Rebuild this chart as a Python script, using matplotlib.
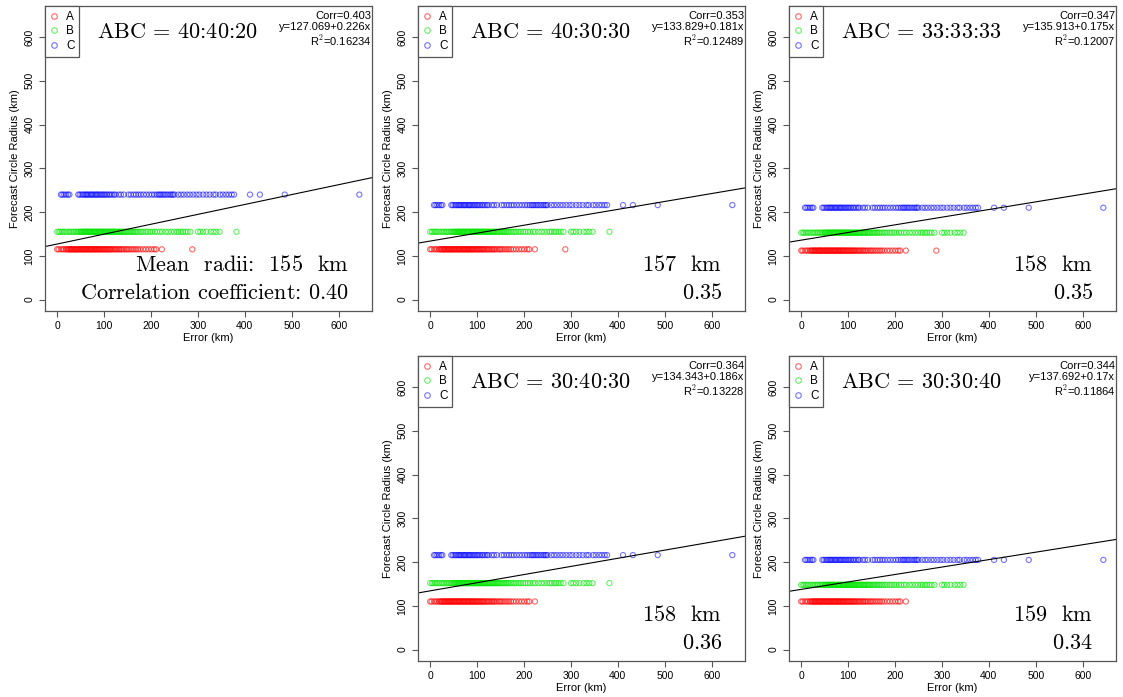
import matplotlib
matplotlib.use("Agg")
import matplotlib.pyplot as plt
from matplotlib.lines import Line2D

plt.rcParams["font.family"] = ["Liberation Sans", "DejaVu Sans"]
plt.rcParams["mathtext.fontset"] = "cm"

# error (km) values of each group
err_A_long = [0, 3, 8, 12, 15, 19, 21, 23, 25, 27, 29, 30, 32, 34, 36, 38, 39, 41, 43, 44,
              46, 48, 50, 51, 53, 55, 57, 58, 60, 62, 63, 65, 67, 69, 70, 72, 74, 75, 77,
              79, 81, 82, 84, 86, 88, 89, 91, 93, 95, 97, 99, 101, 103, 105, 107, 109, 111,
              113, 115, 118, 120, 123, 125, 128, 131, 133, 136, 139, 142, 146, 149, 152,
              156, 160, 164, 168, 172, 177, 183, 189, 195, 201, 207, 211, 223, 288]
err_A_short = err_A_long[:-1]

err_B_long = [0, 4, 7, 11, 14, 18, 22, 26, 29, 33, 36, 40, 43, 46, 49, 51, 53, 55, 57, 59,
              61, 62, 64, 66, 68, 70, 71, 73, 75, 77, 79, 80, 82, 84, 86, 88, 90, 91, 93,
              95, 97, 99, 100, 102, 104, 106, 108, 110, 112, 114, 116, 118, 120, 122, 124,
              126, 128, 131, 133, 135, 137, 140, 142, 145, 147, 150, 153, 156, 159, 162,
              165, 168, 172, 176, 180, 184, 189, 193, 198, 203, 208, 213, 219, 224, 231,
              237, 243, 249, 255, 259, 264, 268, 273, 278, 284, 300, 305, 311, 318, 327,
              333, 339, 346, 382]
err_B_short = err_B_long[:-1]

err_C = [8, 11, 15, 19, 23, 26, 45, 48, 52, 55, 58, 61, 63, 66, 69, 72, 74, 77, 80, 83, 85,
         88, 91, 94, 97, 100, 103, 106, 110, 113, 117, 121, 124, 131, 136, 142, 152, 157,
         163, 168, 173, 178, 184, 190, 196, 202, 207, 212, 216, 219, 222, 226, 229, 233,
         237, 241, 244, 247, 250, 258, 264, 270, 277, 283, 290, 297, 303, 311, 318, 325,
         333, 338, 347, 353, 360, 366, 372, 377, 411, 432, 485, 644]

# one entry per panel
ratios = ["40:40:20", "40:30:30", "33:33:33", "30:40:30", "30:30:40"]
radius_A = [115, 115, 112, 110, 110]
radius_B = [155, 155, 153, 152, 148]
radius_C = [240, 216, 210, 216, 205]
errs_A = [err_A_long, err_A_long, err_A_long, err_A_short, err_A_short]
errs_B = [err_B_long, err_B_long, err_B_short, err_B_long, err_B_short]
corr = ["0.403", "0.353", "0.347", "0.364", "0.344"]
intercept = [127.069, 133.829, 135.913, 134.343, 137.692]
slope = [0.226, 0.181, 0.175, 0.186, 0.17]
r2 = ["0.16234", "0.12489", "0.12007", "0.13228", "0.11864"]
mean_radii = [155, 157, 158, 158, 159]
corr_coef = ["0.40", "0.35", "0.35", "0.36", "0.34"]

fig = plt.figure(figsize=(11.23, 6.97), dpi=100)

W, H = 1123, 697
lefts = [45, 418, 789, 418, 789]
tops = [6, 6, 6, 356, 356]
pw, ph = 327, 305

lo, hi = -26, 671
for i in range(5):
    ax = fig.add_axes([lefts[i] / W, (H - tops[i] - ph) / H, pw / W, ph / H])

    ax.scatter(errs_A[i], [radius_A[i]] * len(errs_A[i]), s=14, facecolors="none",
               edgecolors=(1, 0, 0, 0.6), linewidths=0.8)
    ax.scatter(errs_B[i], [radius_B[i]] * len(errs_B[i]), s=14, facecolors="none",
               edgecolors=(0, 0.9, 0, 0.6), linewidths=0.8)
    ax.scatter(err_C, [radius_C[i]] * len(err_C), s=14, facecolors="none",
               edgecolors=(0, 0, 1, 0.55), linewidths=0.8)

    # regression line
    ax.plot([lo, hi], [intercept[i] + slope[i] * lo, intercept[i] + slope[i] * hi],
            color="black", lw=0.8)

    ax.set_xlim(lo, hi)
    ax.set_ylim(lo, hi)
    ax.set_xticks(range(0, 700, 100))
    ax.set_yticks(range(0, 700, 100))
    ax.tick_params(labelsize=7.5, length=4, width=0.8, color="#555555")
    for lab in ax.get_yticklabels():
        lab.set_rotation(90)
        lab.set_va("center")
    for sp in ax.spines.values():
        sp.set_color("#555555")
        sp.set_linewidth(0.9)
    ax.set_xlabel("Error (km)", fontsize=8, labelpad=1)
    ax.set_ylabel("Forecast Circle Radius (km)", fontsize=8, labelpad=3)

    handles = [Line2D([], [], ls="none", marker="o", ms=4, mfc="none", mew=0.8, mec=c)
               for c in [(1, 0, 0, 0.6), (0, 0.9, 0, 0.6), (0, 0, 1, 0.55)]]
    leg = ax.legend(handles, ["A", "B", "C"], loc="upper left", bbox_to_anchor=(0, 1),
                    borderaxespad=0, fontsize=8.5, fancybox=False, framealpha=1,
                    edgecolor="#555555", borderpad=0.4, labelspacing=0.22,
                    handlelength=0.8, handletextpad=0.6)
    leg.get_frame().set_linewidth(0.9)

    ax.text(0.998, 0.985, "Corr=" + corr[i], transform=ax.transAxes, ha="right",
            va="top", fontsize=8)
    ax.text(0.998, 0.948, "y=%s+%sx" % (intercept[i], slope[i]), transform=ax.transAxes,
            ha="right", va="top", fontsize=8)
    ax.text(0.998, 0.911, "R$^2$=" + r2[i], transform=ax.transAxes, ha="right",
            va="top", fontsize=8)

    ax.text(0.405, 0.912, r"$\text{ABC = " + ratios[i] + "}$", transform=ax.transAxes,
            ha="center", va="center", fontsize=16)

    if i == 0:
        l1 = r"$\text{Mean  radii:  %d  km}$" % mean_radii[i]
        l2 = r"$\text{Correlation coefficient: %s}$" % corr_coef[i]
    else:
        l1 = r"$\text{%d  km}$" % mean_radii[i]
        l2 = r"$\text{%s}$" % corr_coef[i]
    ax.text(0.93, 0.148, l1, transform=ax.transAxes, ha="right", va="center",
            fontsize=16)
    ax.text(0.93, 0.059, l2, transform=ax.transAxes, ha="right", va="center",
            fontsize=16)

fig.savefig("out.png", dpi=100)
